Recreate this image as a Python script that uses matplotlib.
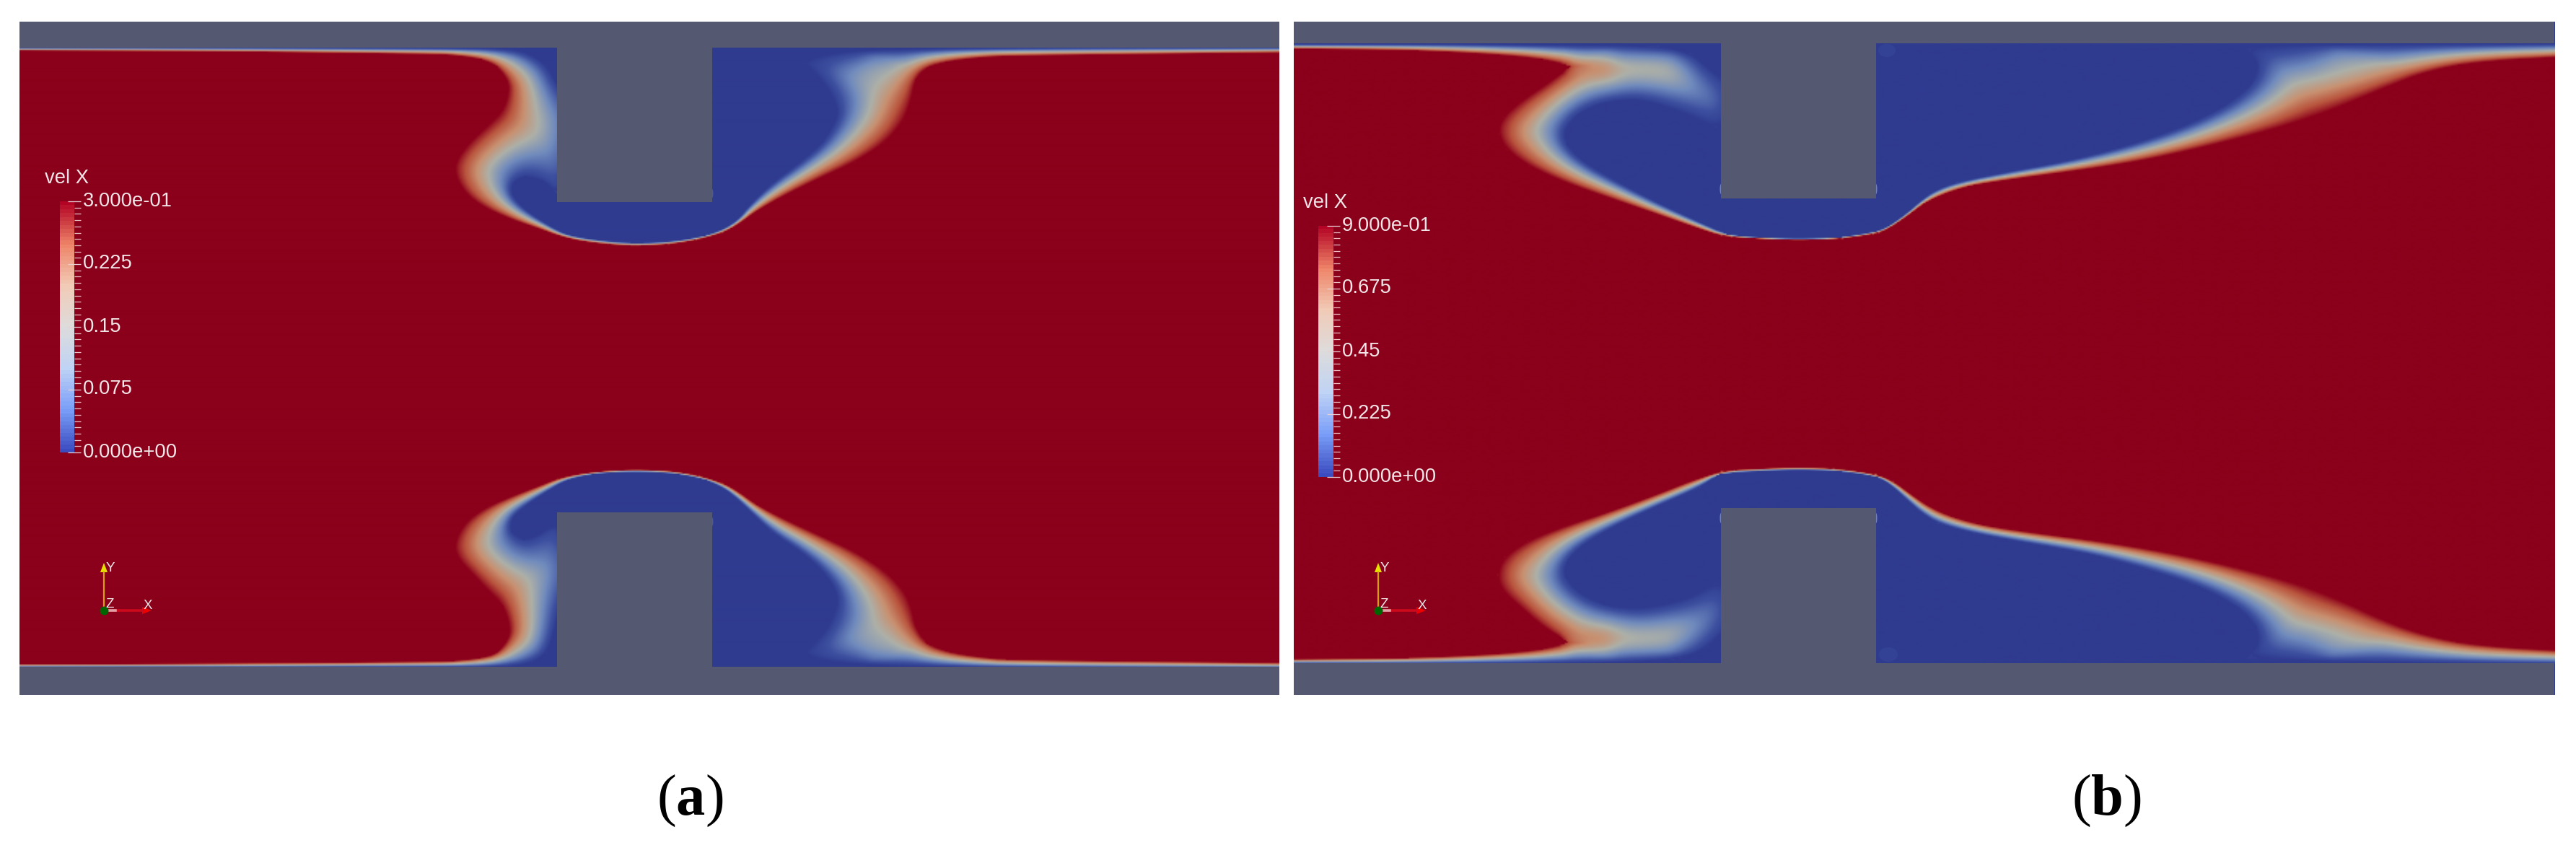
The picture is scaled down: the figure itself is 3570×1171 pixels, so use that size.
import numpy as np
import matplotlib
matplotlib.use('Agg')
import matplotlib.pyplot as plt
from matplotlib.colors import LinearSegmentedColormap
from matplotlib.path import Path
from matplotlib.patches import Rectangle, Ellipse
from matplotlib.transforms import ScaledTranslation

plt.rcParams['font.family'] = ['Liberation Sans', 'DejaVu Sans']
plt.rcParams['mathtext.fontset'] = 'custom'
plt.rcParams['mathtext.rm'] = 'Liberation Serif'
plt.rcParams['mathtext.bf'] = 'Liberation Serif:bold'

W, H = 3570, 1171

# colourbar ranges and labels
vmax_a = 0.3
vmax_b = 0.9
labels_a = ['0.000e+00', '0.075', '0.15', '0.225', '3.000e-01']
labels_b = ['0.000e+00', '0.225', '0.45', '0.675', '9.000e-01']
field_name = 'vel X'
captions = ['a', 'b']

# recirculation contours read off the crops: "outer" is where the velocity
# reaches the colourbar top, "inner" is where it drops to zero.
# each list is (crop x, crop y), see crop() for the conversion
a_top_outer = [(-1170, 150), (-600, 153), (0, 165), (60, 170), (130, 185), (175, 215), (205, 280), (205, 330), (190, 400), (150, 460), (100, 530), (70, 590), (58, 640), (70, 700), (100, 760), (150, 810), (220, 855), (290, 890), (340, 918), (400, 940), (480, 955), (550, 961), (640, 955), (720, 935), (790, 905), (830, 870), (880, 815), (950, 755), (1050, 680), (1150, 610), (1230, 530), (1280, 440), (1300, 350), (1310, 270), (1340, 220), (1400, 195), (1480, 180), (1568, 172), (2200, 160), (2320, 158)]
a_top_inner = [(-1170, 138), (0, 140), (200, 140), (260, 160), (310, 210), (340, 300), (400, 400), (400, 600), (340, 745), (300, 690), (250, 670), (215, 700), (215, 750), (250, 810), (320, 880), (365, 915), (440, 935), (550, 950), (660, 940), (740, 918), (790, 890), (830, 850), (860, 790), (920, 700), (1000, 610), (1060, 530), (1095, 440), (1100, 390), (1075, 310), (1030, 230), (1010, 200), (1050, 170), (1150, 150), (1300, 142), (1568, 139), (2320, 138)]
a_bot_outer = [(-1170, 895), (-600, 893), (0, 885), (60, 882), (130, 870), (175, 850), (205, 790), (210, 740), (190, 650), (150, 590), (100, 510), (70, 460), (58, 410), (70, 350), (100, 290), (150, 240), (220, 195), (290, 155), (340, 125), (400, 105), (480, 92), (550, 88), (640, 92), (720, 112), (790, 145), (830, 180), (880, 235), (950, 290), (1050, 360), (1150, 430), (1230, 510), (1280, 590), (1300, 660), (1310, 740), (1340, 810), (1400, 845), (1480, 865), (1568, 878), (2320, 890)]
a_bot_inner = [(-1170, 910), (0, 908), (200, 908), (270, 890), (310, 850), (330, 760), (345, 650), (400, 500), (345, 330), (320, 325), (280, 365), (245, 380), (210, 345), (215, 290), (250, 240), (320, 170), (365, 130), (440, 105), (550, 97), (660, 105), (740, 130), (790, 165), (830, 215), (860, 260), (920, 350), (1000, 430), (1060, 510), (1095, 590), (1100, 650), (1075, 740), (1030, 820), (1010, 850), (1050, 880), (1150, 895), (1300, 905), (1568, 910), (2320, 912)]

b_top_outer_l = [(23, 143), (300, 148), (500, 165), (620, 185), (690, 215), (640, 280), (570, 360), (525, 430), (515, 490), (535, 560), (590, 630), (680, 700), (780, 760), (900, 830), (1000, 890), (1060, 922), (1150, 932), (1240, 938), (1340, 932), (1429, 910)]
b_top_outer_r = [(30, 885), (70, 835), (105, 785), (150, 745), (210, 710), (300, 685), (400, 660), (500, 635), (600, 605), (700, 565), (800, 520), (900, 470), (1000, 410), (1080, 350), (1150, 295), (1220, 245), (1300, 210), (1400, 190), (1520, 178)]
b_top_inner_l = [(23, 124), (600, 125), (900, 130), (980, 160), (1020, 220), (1080, 300), (1080, 420), (1040, 470), (980, 420), (900, 370), (840, 352), (770, 365), (710, 410), (675, 480), (680, 540), (720, 610), (800, 690), (900, 780), (1000, 860), (1070, 915), (1150, 925), (1240, 930), (1340, 925), (1429, 900)]
b_top_inner_r = [(30, 875), (70, 820), (100, 770), (130, 730), (180, 695), (300, 650), (420, 610), (550, 550), (680, 470), (780, 380), (840, 290), (855, 210), (830, 140), (900, 128), (1100, 124), (1520, 122)]
b_bot_outer_l = [(23, 875), (300, 870), (500, 855), (620, 835), (685, 805), (620, 735), (570, 660), (525, 590), (513, 525), (530, 450), (590, 380), (680, 320), (780, 265), (900, 190), (980, 135), (1060, 92), (1150, 84), (1240, 78), (1340, 85), (1429, 108)]
b_bot_outer_r = [(40, 140), (80, 195), (120, 245), (170, 285), (240, 320), (350, 350), (500, 385), (650, 430), (800, 490), (950, 565), (1050, 640), (1130, 710), (1210, 765), (1300, 805), (1400, 825), (1520, 838)]
b_bot_inner_l = [(23, 893), (500, 893), (800, 890), (950, 875), (1020, 830), (1080, 720), (1080, 600), (1040, 555), (980, 620), (900, 655), (840, 665), (770, 650), (710, 600), (675, 530), (680, 470), (720, 400), (800, 320), (900, 240), (1000, 165), (1050, 105), (1150, 95), (1240, 90), (1340, 95), (1429, 118)]
b_bot_inner_r = [(30, 150), (65, 210), (100, 270), (140, 315), (220, 355), (340, 395), (480, 440), (620, 510), (730, 580), (810, 660), (850, 740), (855, 810), (830, 870), (1000, 885), (1300, 892), (1520, 895)]

# ridges: where the wake holds a peak below the top of the scale between two
# blue zones. (crop points, px added to the distance from the top value)
a_top_ridges = [([(1320, 240), (1260, 205), (1200, 190)], 24)]
a_bot_ridges = [([(1320, 800), (1260, 845), (1200, 860)], 24)]
b_top_ridges_l = [([(690, 215), (770, 212)], 6), ([(770, 212), (850, 208), (925, 205)], 20)]
b_bot_ridges_l = [([(685, 805), (770, 808)], 6), ([(770, 808), (850, 812), (925, 815)], 20)]
b_top_ridges_r = [([(1200, 255), (1100, 195), (1030, 170)], 24)]
b_bot_ridges_r = [([(1170, 740), (1090, 800), (1020, 845)], 24)]

# faint marks at the block corners: (x, y, width, height, colour) in reference px
a_marks = [(987, 268, 3, 12, '#5068b0'), (987, 723, 3, 12, '#5068b0')]
b_marks = [(2385, 262, 3, 14, '#8fa0d0'), (2600, 262, 3, 14, '#8fa0d0'),
           (2385, 718, 3, 14, '#8fa0d0'), (2600, 718, 3, 14, '#8fa0d0'),
           (2615, 70, 24, 18, '#37469a'), (2617, 907, 26, 20, '#37469a')]

gray = '#545870'
field_cmap = LinearSegmentedColormap.from_list('field', [
    (0.0, '#2f3b8f'), (0.12, '#3d50a0'), (0.3, '#6f8abd'), (0.5, '#adb0a8'),
    (0.68, '#c89070'), (0.85, '#b9553e'), (1.0, '#8b001a')])
bar_cmap = LinearSegmentedColormap.from_list('bar', [
    '#3b4cc0', '#7b9ff9', '#c0d4f5', '#dddcdc', '#f2cbb7', '#ee8468', '#b40426'], N=64)


def crop(points, x0, y0, xs):
    p = np.array(points, float)
    return np.column_stack([x0 + p[:, 0] / xs, y0 + p[:, 1] / 3.0])


def crop_ridges(ridges, x0, y0, xs):
    return [(crop(p, x0, y0, xs), c) for p, c in ridges]


def smooth(line, passes=2):
    for _ in range(passes):
        q = 0.75 * line[:-1] + 0.25 * line[1:]
        r = 0.25 * line[:-1] + 0.75 * line[1:]
        mid = np.empty((len(q) * 2, 2))
        mid[0::2] = q
        mid[1::2] = r
        line = np.vstack([line[:1], mid, line[-1:]])
    return line


def distance(x, y, line):
    best = np.full(x.shape, 1e12)
    for a, b in zip(line[:-1], line[1:]):
        d = b - a
        u = np.clip(((x - a[0]) * d[0] + (y - a[1]) * d[1]) / (d @ d + 1e-9), 0, 1)
        best = np.minimum(best, (x - a[0] - u * d[0]) ** 2 + (y - a[1] - u * d[1]) ** 2)
    return np.sqrt(best)


def blur(a, sigma):
    r = int(3 * sigma)
    k = np.exp(-0.5 * (np.arange(-r, r + 1) / sigma) ** 2)
    k /= k.sum()
    p = np.pad(a, r, mode='edge')
    for axis in (0, 1):
        p = np.apply_along_axis(lambda v: np.convolve(v, k, mode='same'), axis, p)
    return p[r:-r, r:-r]


def half_field(x, y, outer, inner, ridges, close_y):
    xy = np.column_stack([x.ravel(), y.ravel()])
    closing = [(outer[-1, 0] + 60, outer[-1, 1]), (outer[-1, 0] + 60, close_y), (outer[0, 0] - 60, close_y), (outer[0, 0] - 60, outer[0, 1])]
    in_outer = Path(np.vstack([outer, closing])).contains_points(xy).reshape(x.shape)
    closing = [(inner[-1, 0] + 60, inner[-1, 1]), (inner[-1, 0] + 60, close_y), (inner[0, 0] - 60, close_y), (inner[0, 0] - 60, inner[0, 1])]
    in_inner = Path(np.vstack([inner, closing])).contains_points(xy).reshape(x.shape)
    d_in = distance(x, y, smooth(inner))
    d_out = distance(x, y, smooth(outer))
    k = 6.0
    soft = np.exp(-d_out / k)
    for line, c in ridges:
        soft = soft + np.exp(-(distance(x, y, smooth(line, 1)) + c) / k)
    d_soft = np.minimum(d_out, -k * np.log(soft + 1e-30))
    d_soft = np.maximum(d_soft, 0)
    t = d_in / (d_in + d_soft + 1e-9)
    t[~in_outer] = 1
    t[in_inner] = 0
    # take the creases out where the wake is wide, thin layers stay sharp
    w = np.clip((d_in + d_out - 30) / 40, 0, 1) * np.clip(d_in / 15, 0, 1) * np.clip(d_out / 15, 0, 1)
    w[~in_outer | in_inner] = 0
    return t * (1 - w) + blur(t, 5) * w


def panel(x0, x1, top_outer, top_inner, bot_outer, bot_inner, top_ridges, bot_ridges, marks, vmax, wall_top, wall_bot, block, labels, bar_x, bar_y, origin):
    ax = fig.add_axes([x0 / W, 1 - 963 / H, (x1 - x0) / W, 933 / H])
    xs = np.arange(x0, x1 + 1, 2.0)
    ys = np.arange(30, 964, 2.0)
    f = np.ones((len(ys), len(xs)))
    n = np.searchsorted(ys, 495)
    gx, gy = np.meshgrid(xs, ys[:n])
    f[:n] = half_field(gx, gy, top_outer, top_inner, top_ridges, -200)
    gx, gy = np.meshgrid(xs, ys[n:])
    f[n:] = half_field(gx, gy, bot_outer, bot_inner, bot_ridges, 1300)
    ax.imshow(f * vmax, extent=(x0 - 1, x1 + 1, 965, 29), cmap=field_cmap, vmin=0, vmax=vmax,
              interpolation='bilinear', aspect='auto')
    ax.set_xlim(x0, x1)
    ax.set_ylim(963, 30)
    ax.axis('off')
    for mx, my, mw, mh, mc in marks:
        ax.add_patch(Ellipse((mx, my), mw, mh, color=mc, lw=0, alpha=0.7))
    # walls and the two blocks
    ax.add_patch(Rectangle((x0, 30), x1 - x0, wall_top[0] - 30, color=gray, lw=0))
    ax.add_patch(Rectangle((x0, wall_bot[1]), x1 - x0, 963 - wall_bot[1], color=gray, lw=0))
    ax.add_patch(Rectangle((block[0], 30), block[1] - block[0], wall_top[1] - 30, color=gray, lw=0))
    ax.add_patch(Rectangle((block[0], wall_bot[0]), block[1] - block[0], 963 - wall_bot[0], color=gray, lw=0))

    # axes widget
    ox, oy = origin
    ax.plot([ox, ox], [oy, oy - 53], color='#d8a010', lw=1.6)
    ax.plot([ox, ox + 53], [oy, oy], color='#cc0a1c', lw=2.6)
    ax.plot([ox, ox + 16], [oy, oy], color='#e0a0a8', lw=2.6)
    ax.fill([ox - 5, ox + 5, ox], [oy - 53, oy - 53, oy - 66], color='#e6e000', lw=0)
    ax.fill([ox + 53, ox + 53, ox + 66], [oy - 5, oy + 5, oy], color='#ee0000', lw=0)
    ax.plot(ox, oy, 'o', color='#006400', ms=8.6, mew=0)
    for s, dx, dy in [('Y', 9, -59), ('Z', 8, -9), ('X', 61, -7)]:
        ax.text(ox + dx, oy + dy, s, color='#f2e6e8', fontsize=13.5, ha='center', va='center')

    # colourbar
    cb = fig.add_axes([bar_x[0] / W, 1 - bar_y[1] / H, (bar_x[1] - bar_x[0]) / W, (bar_y[1] - bar_y[0]) / H])
    grad = np.linspace(0, vmax, 64)[:, None]
    cb.imshow(grad, extent=(0, 1, 0, vmax), origin='lower', cmap=bar_cmap, vmin=0, vmax=vmax,
              aspect='auto', interpolation='nearest')
    for s in cb.spines.values():
        s.set_visible(False)
    cb.set_xticks([])
    cb.yaxis.tick_right()
    cb.set_yticks(np.linspace(0, vmax, 5))
    cb.set_yticklabels(labels, fontsize=19.7, color='#f2e6e8')
    cb.set_yticks(np.linspace(0, vmax, 41), minor=True)
    cb.tick_params(which='major', direction='inout', length=12.5, width=0.9, pad=2.5, color='#e8d0d4')
    cb.tick_params(which='minor', direction='out', length=6.5, width=0.9, color='#e8c0c8')
    for t in cb.get_yticklabels():
        t.set_transform(t.get_transform() + ScaledTranslation(0, 0.035, fig.dpi_scale_trans))
    fig.text((bar_x[0] - 21) / W, 1 - (bar_y[0] - 32) / H, field_name, fontsize=19.7, color='#f2e6e8', ha='left', va='center')
    return ax


fig = plt.figure(figsize=(W / 100, H / 100), dpi=100, facecolor='white')

panel(27, 1773,
      crop(a_top_outer, 600, 20, 1.96), crop(a_top_inner, 600, 20, 1.96),
      crop(a_bot_outer, 600, 620, 1.96), crop(a_bot_inner, 600, 620, 1.96),
      crop_ridges(a_top_ridges, 600, 20, 1.96), crop_ridges(a_bot_ridges, 600, 620, 1.96),
      a_marks, vmax_a, (66, 280), (710, 924), (772, 987), labels_a,
      (83, 103), (279, 627), (144, 846))

b_to = np.vstack([crop(b_top_outer_l, 1780, 20, 1.742), crop(b_top_outer_r, 2600, 20, 1.6165)])
b_ti = np.vstack([crop(b_top_inner_l, 1780, 20, 1.742), crop(b_top_inner_r, 2600, 20, 1.6165)])
b_bo = np.vstack([crop(b_bot_outer_l, 1780, 620, 1.742), crop(b_bot_outer_r, 2600, 620, 1.6165)])
b_bi = np.vstack([crop(b_bot_inner_l, 1780, 620, 1.742), crop(b_bot_inner_r, 2600, 620, 1.6165)])
b_tr = crop_ridges(b_top_ridges_l, 1780, 20, 1.742) + crop_ridges(b_top_ridges_r, 2600, 20, 1.6165)
b_br = crop_ridges(b_bot_ridges_l, 1780, 620, 1.742) + crop_ridges(b_bot_ridges_r, 2600, 620, 1.6165)
panel(1793, 3540, b_to, b_ti, b_bo, b_bi, b_tr, b_br, b_marks, vmax_b, (60, 275), (704, 919), (2385, 2600), labels_b,
      (1827, 1848), (313, 661), (1910, 846))

for c, x in zip(captions, [956, 2919]):
    fig.text(x / W, 1 - 1110 / H, r'($\mathbf{%s}$)' % c, fontsize=58, family='Liberation Serif',
             ha='center', va='center', color='black')

fig.savefig('out.png', dpi=100)
